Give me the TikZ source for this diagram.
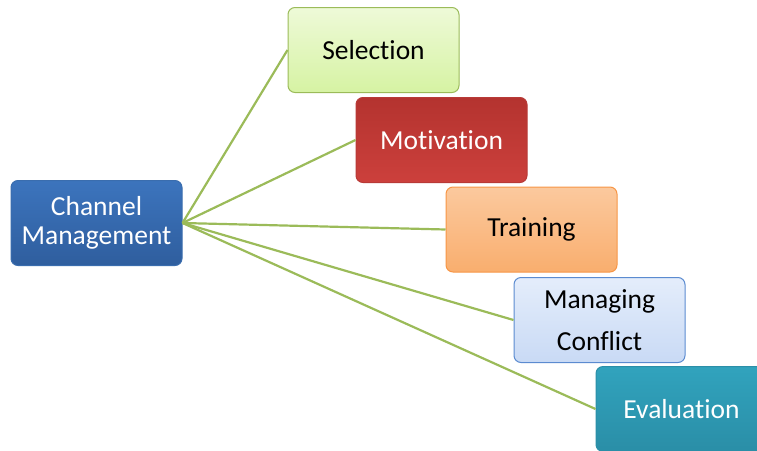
\documentclass[tikz,border=0pt]{standalone}
\usepackage{fontspec}
\setmainfont{Carlito}[Ligatures=NoCommon]
\definecolor{lnk}{HTML}{9BBB59}
\definecolor{chb}{HTML}{3A6DAE}
\definecolor{chtop}{HTML}{3C74BD}
\definecolor{chbot}{HTML}{2F5E9E}
\definecolor{selb}{HTML}{9BBB59}
\definecolor{seltop}{HTML}{EEFAD8}
\definecolor{selbot}{HTML}{D6F3A3}
\definecolor{motb}{HTML}{B83A37}
\definecolor{mottop}{HTML}{B4332F}
\definecolor{motbot}{HTML}{CC403C}
\definecolor{trb}{HTML}{F79646}
\definecolor{trtop}{HTML}{FBC99E}
\definecolor{trbot}{HTML}{F9AE6E}
\definecolor{mcb}{HTML}{5B8BD0}
\definecolor{mctop}{HTML}{E4EDFB}
\definecolor{mcbot}{HTML}{C9DAF5}
\definecolor{evb}{HTML}{2B8FA8}
\definecolor{evtop}{HTML}{31A3BD}
\definecolor{evbot}{HTML}{2A8EA7}
\begin{document}
\begin{tikzpicture}[x=1pt,y=-1pt,
  box/.style={rounded corners=7pt, minimum width=171pt, minimum height=85pt, align=center, inner sep=2pt,
    font=\fontsize{27.5}{29}\selectfont, line width=1pt},
  link/.style={draw=lnk, line width=2.2pt},
]
\useasboundingbox (0,0) rectangle (757,450);
\clip (0,0) rectangle (757,450);
\node[box, draw=chb, top color=chtop, bottom color=chbot, text=white] (ch) at (96.5,223) {Channel\\Management};
\node[box, draw=selb, top color=seltop, bottom color=selbot, text=black] (sel) at (373.5,50) {Selection};
\node[box, draw=motb, top color=mottop, bottom color=motbot, text=white] (mot) at (441.5,140) {Motivation};
\node[box, draw=trb, top color=trtop, bottom color=trbot, text=black] (tr) at (531.5,229.5) {Training};
\node[box, draw=mcb, top color=mctop, bottom color=mcbot, text=black, font=\fontsize{27.5}{42}\selectfont] (mc) at (599.5,320) {Managing\\[-0pt]Conflict};
\node[box, draw=evb, top color=evtop, bottom color=evbot, text=white] (ev) at (681.5,409) {Evaluation};
\draw[link] (ch.east) -- (sel.west);
\draw[link] (ch.east) -- (mot.west);
\draw[link] (ch.east) -- (tr.west);
\draw[link] (ch.east) -- (mc.west);
\draw[link] (ch.east) -- (ev.west);
\end{tikzpicture}
\end{document}
